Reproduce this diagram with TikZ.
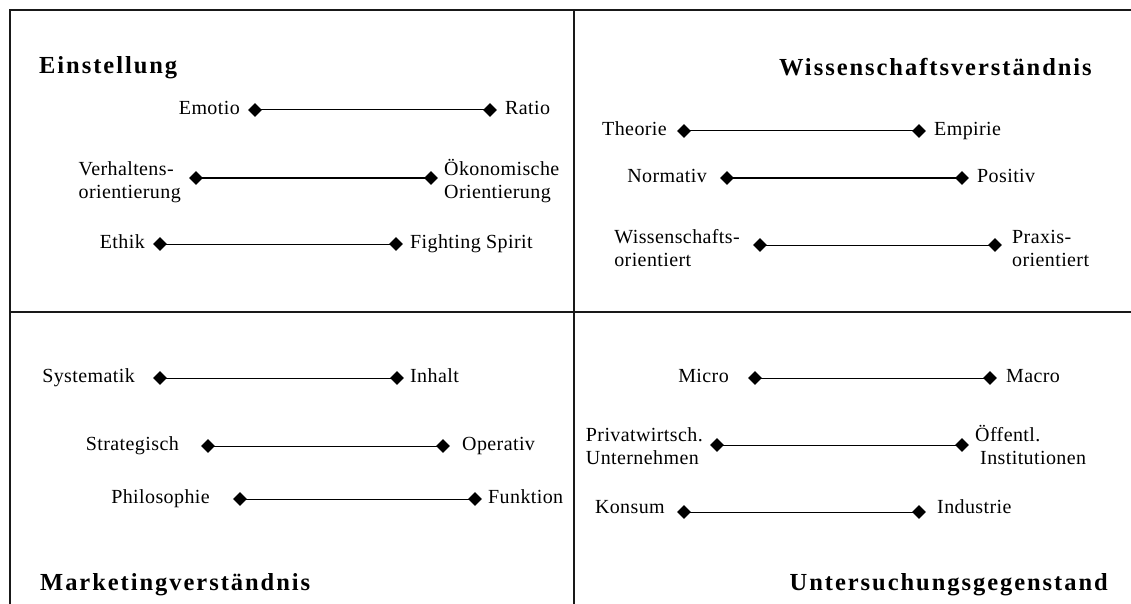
\documentclass[tikz,border=0pt]{standalone}
\usepackage{fontspec}
\setmainfont{Liberation Serif}
\newfontfamily\bodyfont[LetterSpace=2]{Liberation Serif}
\newfontfamily\titlefont[LetterSpace=8]{Liberation Serif}
\usetikzlibrary{shapes.geometric}
\tikzset{
  frameline/.style={line width=1.2pt, black!90},
  pole/.style={diamond, fill=black, draw=none, inner sep=0pt, minimum width=14pt, minimum height=14pt},
  bar/.style={line width=1pt, black},
  lbl/.style={font=\bodyfont\fontsize{20}{23}\selectfont, inner sep=0pt, align=left},
  ttl/.style={font=\titlefont\bfseries\fontsize{24.5}{28}\selectfont, inner sep=0pt},
}
\begin{document}
\begin{tikzpicture}[x=1pt,y=-1pt]
\useasboundingbox (0,0) rectangle (1131,604);
% frame
\draw[frameline] (10,604) -- (10,10) -- (1131,10);
\draw[frameline] (574,10) -- (574,604);
\draw[frameline] (10,312) -- (1131,312);

% titles
\node[ttl, anchor=base west] (t1) at (39,74) {Einstellung};
\node[ttl, anchor=base east] (t2) at (1092,76) {Wissenschaftsverständnis};
\node[ttl, anchor=base west] (t3) at (40,590) {Marketingverständnis};
\node[ttl, anchor=base east] (t4) at (1108,590) {Untersuchungsgegenstand};

% --- Einstellung
\node[pole] (a1) at (255,110) {};
\node[pole] (b1) at (490,110) {};
\draw[bar] (a1.center) -- (b1.center);
\node[lbl, anchor=base east] (la1) at (240,114.5) {Emotio};
\node[lbl, anchor=base west] (lb1) at (505,114.5) {Ratio};

\node[pole] (a2) at (196,178) {};
\node[pole] (b2) at (431,178) {};
\draw[bar] (a2.center) -- (b2.center);
\node[lbl, anchor=base east] (la2) at (181,198) {Verhaltens-\\orientierung};
\node[lbl, anchor=base west] (lb2) at (444,198) {Ökonomische\\Orientierung};

\node[pole] (a3) at (160,244) {};
\node[pole] (b3) at (396,244) {};
\draw[bar] (a3.center) -- (b3.center);
\node[lbl, anchor=base east] (la3) at (145,248.5) {Ethik};
\node[lbl, anchor=base west] (lb3) at (410,248.5) {Fighting Spirit};

% --- Wissenschaftsverstaendnis
\node[pole] (a4) at (684,131) {};
\node[pole] (b4) at (919,131) {};
\draw[bar] (a4.center) -- (b4.center);
\node[lbl, anchor=base east] (la4) at (667,135.5) {Theorie};
\node[lbl, anchor=base west] (lb4) at (934,135.5) {Empirie};

\node[pole] (a5) at (727,178) {};
\node[pole] (b5) at (962,178) {};
\draw[bar] (a5.center) -- (b5.center);
\node[lbl, anchor=base east] (la5) at (707,182.5) {Normativ};
\node[lbl, anchor=base west] (lb5) at (977,182.5) {Positiv};

\node[pole] (a6) at (760,245) {};
\node[pole] (b6) at (995,245) {};
\draw[bar] (a6.center) -- (b6.center);
\node[lbl, anchor=base east] (la6) at (740,266) {Wissenschafts-\\orientiert};
\node[lbl, anchor=base west] (lb6) at (1012,266) {Praxis-\\orientiert};

% --- Marketingverstaendnis
\node[pole] (a7) at (160,378) {};
\node[pole] (b7) at (397,378) {};
\draw[bar] (a7.center) -- (b7.center);
\node[lbl, anchor=base east] (la7) at (135,382.5) {Systematik};
\node[lbl, anchor=base west] (lb7) at (410,382.5) {Inhalt};

\node[pole] (a8) at (208,446) {};
\node[pole] (b8) at (443,446) {};
\draw[bar] (a8.center) -- (b8.center);
\node[lbl, anchor=base east] (la8) at (179,450.5) {Strategisch};
\node[lbl, anchor=base west] (lb8) at (462,450.5) {Operativ};

\node[pole] (a9) at (240,499) {};
\node[pole] (b9) at (475,499) {};
\draw[bar] (a9.center) -- (b9.center);
\node[lbl, anchor=base east] (la9) at (210,503.5) {Philosophie};
\node[lbl, anchor=base west] (lb9) at (488,503.5) {Funktion};

% --- Untersuchungsgegenstand
\node[pole] (a10) at (755,378) {};
\node[pole] (b10) at (990,378) {};
\draw[bar] (a10.center) -- (b10.center);
\node[lbl, anchor=base east] (la10) at (729,382.5) {Micro};
\node[lbl, anchor=base west] (lb10) at (1006,382.5) {Macro};

\node[pole] (a11) at (717,445) {};
\node[pole] (b11) at (962,445) {};
\draw[bar] (a11.center) -- (b11.center);
\node[lbl, anchor=base east] (la11) at (703,464) {Privatwirtsch.\\Unternehmen};
\node[lbl, anchor=base west] (lb11) at (975,464) {Öffentl.\\\hspace*{5pt}Institutionen};

\node[pole] (a12) at (684,512) {};
\node[pole] (b12) at (919,512) {};
\draw[bar] (a12.center) -- (b12.center);
\node[lbl, anchor=base east] (la12) at (665,513) {Konsum};
\node[lbl, anchor=base west] (lb12) at (937,513) {Industrie};
\end{tikzpicture}
\end{document}
